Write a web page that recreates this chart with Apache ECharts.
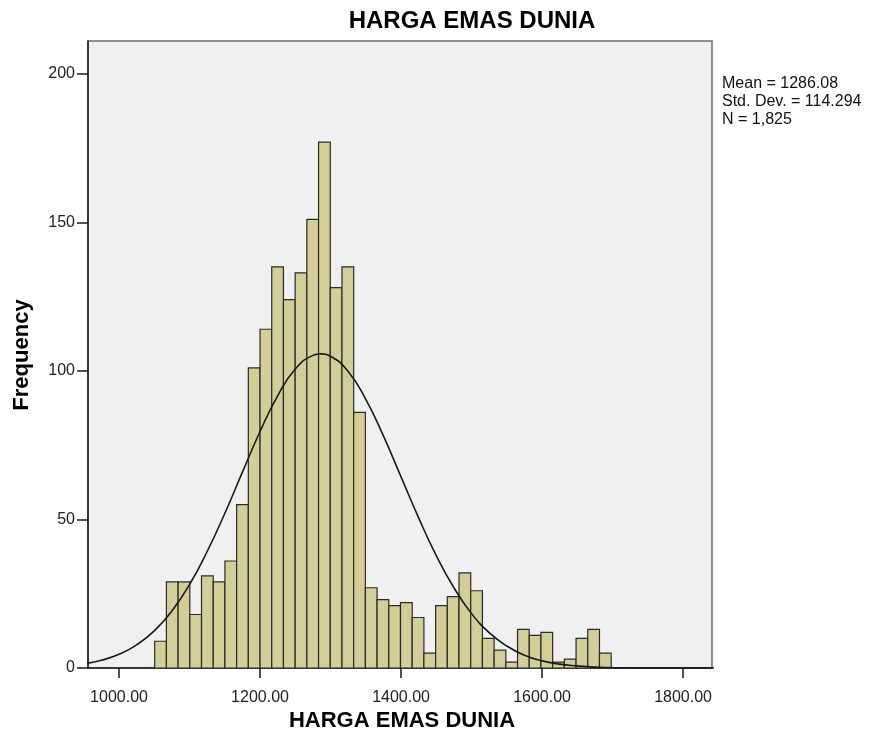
<!DOCTYPE html>
<html>
<head>
<meta charset="utf-8">
<script src="https://cdn.jsdelivr.net/npm/echarts@6/dist/echarts.min.js"></script>
<style>
html,body{margin:0;padding:0;background:#fff;}
#chart{width:870px;height:736px;}
</style>
</head>
<body>
<div id="chart"></div>
<script>
// Histogram bins
var binStart = 1050.6;
var binWidth = 16.6;
var counts = [9, 29, 29, 18, 31, 29, 36, 55, 101, 114, 135, 124, 133, 151, 177, 128, 135, 86,
              27, 23, 21, 22, 17, 5, 21, 24, 32, 26, 10, 6, 2, 13, 11, 12, 2, 3, 10, 13, 5];

// Normal curve points
var curveX = [950, 975, 1000, 1025, 1050, 1075, 1100, 1125, 1150, 1175, 1200, 1225, 1250, 1275, 1286,
              1300, 1325, 1350, 1375, 1400, 1425, 1450, 1475, 1500, 1525, 1550, 1575, 1600, 1625,
              1650, 1675, 1700, 1725, 1750, 1775, 1800, 1825, 1850];
var curveY = [1.4, 2.6, 4.6, 7.8, 12.5, 19.2, 28.1, 39.2, 52.0, 65.9, 79.6, 91.6, 100.6, 105.2, 105.7,
              104.9, 99.8, 90.4, 78.1, 64.3, 50.5, 37.8, 27.0, 18.3, 11.9, 7.4, 4.3, 2.4, 1.3,
              0.7, 0.3, 0.15, 0.07, 0.03, 0.01, 0, 0, 0];

var xTicks = [1000, 1200, 1400, 1600, 1800];
var yTicks = [0, 50, 100, 150, 200];
var statsLines = ['Mean = 1286.08', 'Std. Dev. = 114.294', 'N = 1,825'];
var titleText = 'HARGA EMAS DUNIA';
var xTitle = 'HARGA EMAS DUNIA';
var yTitle = 'Frequency';

var histData = counts.map(function (c, i) {
  return [binStart + i * binWidth, binStart + (i + 1) * binWidth, c];
});
var curveData = curveX.map(function (x, i) { return [x, curveY[i]]; });

var FONT = '"Liberation Sans", Arial, sans-serif';
var chart = echarts.init(document.getElementById('chart'), null, {renderer: 'canvas'});
chart.setOption({
  animation: false,
  backgroundColor: '#ffffff',
  grid: {
    left: 88, right: 158, top: 41, bottom: 68,
    show: true, backgroundColor: '#f0f0f0', borderColor: '#6e6e6e', borderWidth: 1.5
  },
  xAxis: {
    type: 'value', min: 956, max: 1841,
    axisLine: {show: true, onZero: false, lineStyle: {color: '#1a1a1a', width: 1.5}},
    axisTick: {show: true, length: 10, customValues: xTicks, lineStyle: {color: '#1a1a1a', width: 1.5}},
    axisLabel: {customValues: xTicks, margin: 22, color: '#222', fontSize: 16, fontFamily: FONT,
      formatter: function (v) { return v.toFixed(2); }},
    splitLine: {show: false}
  },
  yAxis: {
    type: 'value', min: 0, max: 211,
    axisLine: {show: true, lineStyle: {color: '#1a1a1a', width: 1.5}},
    axisTick: {show: true, length: 11, customValues: yTicks, lineStyle: {color: '#1a1a1a', width: 1.5}},
    axisLabel: {customValues: yTicks, margin: 13, color: '#222', fontSize: 16, fontFamily: FONT},
    splitLine: {show: false}
  },
  series: [
    {
      type: 'custom',
      data: histData,
      encode: {x: [0, 1], y: 2},
      clip: true,
      renderItem: function (params, api) {
        var p0 = api.coord([api.value(0), api.value(2)]);
        var p1 = api.coord([api.value(1), 0]);
        return {
          type: 'rect',
          shape: {x: p0[0], y: p0[1], width: p1[0] - p0[0], height: p1[1] - p0[1]},
          style: {fill: '#d3ce97', stroke: '#2a2a2a', lineWidth: 1.2}
        };
      },
      z: 2
    },
    {
      type: 'line',
      data: curveData,
      smooth: true,
      symbol: 'none',
      clip: true,
      lineStyle: {color: '#1a1a1a', width: 1.6},
      z: 3
    }
  ],
  graphic: [
    {type: 'text', x: 472, y: 21, style: {text: titleText, font: 'bold 24px ' + FONT, fill: '#000', align: 'center', verticalAlign: 'middle'}},
    {type: 'text', x: 722, y: 74, style: {text: statsLines.join('\n'), font: '16px ' + FONT, lineHeight: 18.3, fill: '#111'}},
    {type: 'text', x: 402, y: 721, style: {text: xTitle, font: 'bold 22px ' + FONT, fill: '#000', align: 'center', verticalAlign: 'middle'}},
    {type: 'text', x: 22, y: 355, rotation: Math.PI / 2, style: {text: yTitle, font: 'bold 22px ' + FONT, fill: '#000', align: 'center', verticalAlign: 'middle'}}
  ]
});
</script>
</body>
</html>
